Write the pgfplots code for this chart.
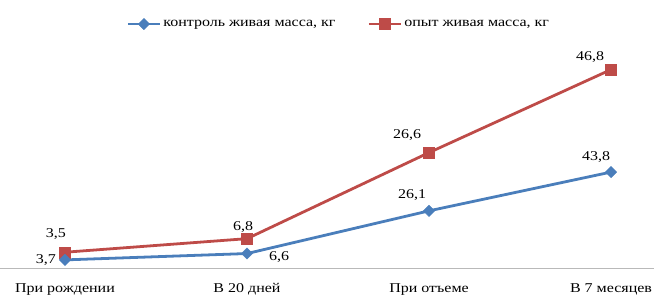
\documentclass[border=0pt]{standalone}
\usepackage{pgfplots}
\pgfplotsset{compat=1.18}
\usepackage{pgfplotstable}
\usepackage{fontspec}
\setmainfont[FakeStretch=1.19]{Liberation Serif}
\definecolor{cblue}{HTML}{4A7EBB}
\definecolor{cred}{HTML}{BE4B48}
\pgfplotstableread{
x y lab dx dy
0 3.7 3,7 -19 0
1 6.6 6,6 32 -4
2 26.1 26,1 -17 16
3 43.8 43,8 -15 15
}\control
\pgfplotstableread{
x y lab dx dy
0 3.5 3,5 -9 18
1 6.8 6,8 -4 12
2 26.6 26,6 -22 18
3 46.8 46,8 -21 13
}\opyt
\newcommand{\fs}{\fontsize{13.5}{15}\selectfont}
\begin{document}
\begin{tikzpicture}
\begin{axis}[
  at={(0,0)}, anchor=south west,
  scale only axis, width=654bp, height=219bp,
  xmin=-0.357, xmax=3.236, ymin=0, ymax=100,
  stack plots=y,
  clip=false,
  axis y line=none, axis x line=bottom,
  x axis line style={-, draw=gray!55, line width=0.9pt},
  xtick={0,1,2,3},
  xticklabels={При рождении, В 20 дней, При отъеме, В 7 месяцев},
  major tick length=0pt,
  xticklabel style={font=\fs, yshift=-12bp},
  legend style={at={(0.518,1.114)}, anchor=center, draw=none, fill=none,
    legend columns=2, font=\fs,
    /tikz/every even column/.append style={column sep=30bp}},
  legend image code/.code={\draw[mark repeat=2,mark phase=2] plot coordinates {(0bp,0bp) (16bp,0bp) (32bp,0bp)};},
  point meta=explicit symbolic,
  visualization depends on={\thisrow{dx} \as \dx},
  visualization depends on={\thisrow{dy} \as \dy},
  nodes near coords,
  nodes near coords style={anchor=center, xshift=\dx bp, yshift=\dy bp, font=\fs, text=black, inner sep=0pt},
]
\addplot[color=cblue, line width=2.8pt, mark=square*, mark size=4bp, mark options={fill=cblue, draw=cblue, line width=0.4pt, rotate=45}]
  table[x=x, y=y, meta=lab]{\control};
\addlegendentry{контроль живая масса, кг}
\addplot[color=cred, line width=2.8pt, mark=square*, mark size=5.5bp, mark options={fill=cred, draw=cred, line width=0.4pt}]
  table[x=x, y=y, meta=lab]{\opyt};
\addlegendentry{опыт живая масса, кг}
\end{axis}
\pgfresetboundingbox
\useasboundingbox (0,-29bp) rectangle (654bp,268bp);
\end{tikzpicture}
\end{document}
